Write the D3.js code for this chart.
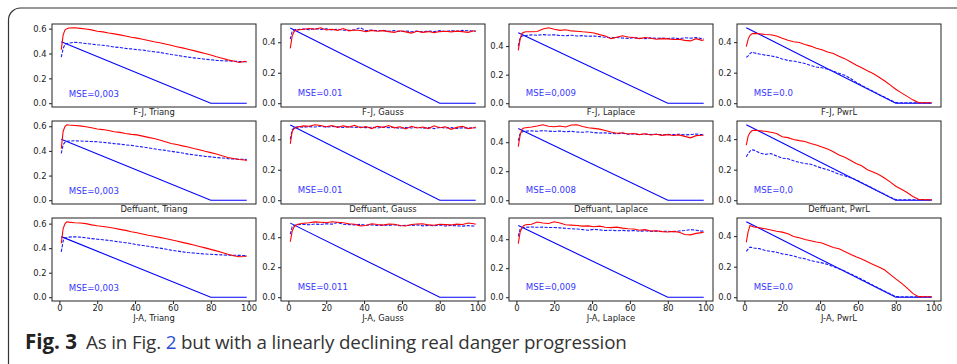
<!DOCTYPE html>
<html>
<head>
<meta charset="utf-8">
<script src="https://cdn.jsdelivr.net/npm/d3@7"></script>
<style>
  body { margin: 0; background: #fff; }
  svg { display: block; }
  .tick text { font-family: "DejaVu Sans", sans-serif; font-size: 8.4px; fill: #222; }
  .tick line { stroke: #222; }
</style>
</head>
<body>
<div id="wrapper"></div>
<script>
// x positions of the simulated points (days)
const xs = [1,2,3,4,5,8,11,14,17,20,23,26,29,32,35,38,41,44,47,50,53,56,59,62,65,68,71,74,77,80,83,86,89,92,95,98,99];

// real danger progression (linear decline, then zero)
const realX = [1, 80, 99];
const realY = [0.494, 0, 0];

const models = ["F-J", "Deffuant", "J-A"];
const dists = ["Triang", "Gauss", "Laplace", "PwrL"];

const mseFJ = ["MSE=0,003", "MSE=0.01", "MSE=0,009", "MSE=0.0"];
const mseDeffuant = ["MSE=0,003", "MSE=0.01", "MSE=0.008", "MSE=0,0"];
const mseJA = ["MSE=0,003", "MSE=0.011", "MSE=0,009", "MSE=0.0"];

const xTicks = [0, 20, 40, 60, 80, 100];
const yTicksTriang = [0, 0.2, 0.4, 0.6];
const yTicksOther = [0, 0.2, 0.4];

// red = perceived danger, blue dashed = estimate
const redFJTriang = [0.43,0.55,0.59,0.60,0.605,0.607,0.602,0.597,0.590,0.579,0.574,0.565,0.558,0.550,0.541,0.531,0.524,0.514,0.505,0.495,0.487,0.476,0.466,0.455,0.445,0.434,0.423,0.411,0.400,0.388,0.374,0.362,0.349,0.339,0.328,0.337,0.332];
const blueFJTriang = [0.37,0.44,0.475,0.48,0.484,0.49,0.486,0.48,0.476,0.47,0.466,0.46,0.452,0.448,0.441,0.437,0.431,0.428,0.42,0.414,0.409,0.4,0.392,0.386,0.378,0.371,0.365,0.36,0.354,0.35,0.345,0.342,0.34,0.337,0.336,0.334,0.333];
const redDefTriang = [0.42,0.56,0.60,0.612,0.61,0.606,0.603,0.596,0.588,0.578,0.573,0.566,0.556,0.55,0.541,0.534,0.53,0.52,0.51,0.5,0.488,0.474,0.46,0.452,0.441,0.432,0.42,0.41,0.397,0.386,0.375,0.36,0.347,0.338,0.33,0.326,0.32];
const blueDefTriang = [0.38,0.45,0.47,0.478,0.48,0.482,0.48,0.478,0.476,0.474,0.47,0.465,0.459,0.455,0.449,0.445,0.438,0.432,0.425,0.417,0.41,0.404,0.397,0.39,0.383,0.374,0.368,0.362,0.356,0.352,0.346,0.343,0.337,0.334,0.332,0.331,0.33];
const redJATriang = [0.44,0.56,0.60,0.615,0.612,0.607,0.605,0.6,0.59,0.582,0.576,0.57,0.562,0.553,0.545,0.534,0.525,0.516,0.505,0.497,0.488,0.478,0.469,0.458,0.447,0.437,0.425,0.414,0.402,0.39,0.378,0.364,0.351,0.338,0.33,0.332,0.337];
const blueJATriang = [0.37,0.46,0.485,0.487,0.49,0.493,0.49,0.484,0.478,0.473,0.468,0.463,0.457,0.45,0.444,0.438,0.428,0.422,0.415,0.408,0.4,0.393,0.384,0.377,0.37,0.364,0.36,0.356,0.352,0.35,0.347,0.345,0.343,0.342,0.341,0.34,0.341];

const redFJGauss = [0.36,0.44,0.47,0.48,0.48,0.485,0.49,0.485,0.495,0.48,0.485,0.478,0.49,0.475,0.48,0.477,0.47,0.478,0.472,0.476,0.47,0.465,0.475,0.468,0.46,0.472,0.465,0.47,0.463,0.47,0.472,0.468,0.473,0.47,0.465,0.475,0.47];
const blueFJGauss = [0.42,0.47,0.48,0.485,0.483,0.487,0.482,0.49,0.484,0.488,0.481,0.486,0.479,0.478,0.482,0.495,0.476,0.48,0.475,0.478,0.472,0.476,0.47,0.474,0.469,0.473,0.468,0.474,0.47,0.476,0.471,0.477,0.472,0.478,0.475,0.473,0.474];
const redDefGauss = [0.37,0.45,0.47,0.475,0.48,0.488,0.485,0.495,0.49,0.482,0.49,0.478,0.488,0.48,0.492,0.476,0.483,0.47,0.485,0.478,0.49,0.475,0.482,0.468,0.485,0.474,0.48,0.47,0.488,0.476,0.482,0.465,0.478,0.485,0.47,0.476,0.48];
const blueDefGauss = [0.4,0.46,0.475,0.48,0.482,0.478,0.483,0.48,0.486,0.479,0.484,0.481,0.477,0.482,0.478,0.48,0.476,0.479,0.474,0.48,0.476,0.478,0.472,0.477,0.474,0.479,0.473,0.476,0.47,0.478,0.474,0.476,0.471,0.475,0.473,0.476,0.474];
const redJAGauss = [0.37,0.44,0.47,0.48,0.486,0.493,0.497,0.502,0.5,0.497,0.503,0.5,0.497,0.49,0.486,0.476,0.478,0.49,0.485,0.481,0.488,0.486,0.478,0.475,0.485,0.488,0.49,0.482,0.48,0.486,0.484,0.482,0.487,0.485,0.495,0.49,0.486];
const blueJAGauss = [0.42,0.47,0.478,0.482,0.484,0.486,0.483,0.488,0.485,0.49,0.487,0.498,0.486,0.484,0.482,0.486,0.48,0.483,0.478,0.481,0.479,0.483,0.477,0.48,0.478,0.482,0.476,0.479,0.477,0.481,0.475,0.478,0.476,0.474,0.477,0.475,0.476];

const redFJLaplace = [0.37,0.45,0.49,0.497,0.5,0.5,0.502,0.52,0.528,0.518,0.51,0.514,0.506,0.504,0.5,0.497,0.492,0.48,0.47,0.452,0.462,0.472,0.463,0.46,0.452,0.46,0.455,0.448,0.452,0.45,0.446,0.448,0.44,0.436,0.452,0.44,0.442];
const blueFJLaplace = [0.4,0.46,0.47,0.472,0.474,0.478,0.476,0.48,0.477,0.479,0.474,0.472,0.476,0.47,0.473,0.468,0.47,0.466,0.462,0.458,0.46,0.456,0.454,0.458,0.455,0.452,0.457,0.454,0.456,0.453,0.456,0.452,0.458,0.455,0.46,0.452,0.45];
const redDefLaplace = [0.37,0.45,0.49,0.498,0.5,0.505,0.512,0.52,0.51,0.506,0.512,0.505,0.518,0.52,0.508,0.5,0.495,0.49,0.48,0.47,0.462,0.465,0.456,0.46,0.452,0.458,0.45,0.455,0.447,0.452,0.446,0.45,0.44,0.43,0.445,0.448,0.45];
const blueDefLaplace = [0.41,0.46,0.47,0.475,0.476,0.478,0.475,0.48,0.476,0.474,0.477,0.472,0.475,0.47,0.468,0.472,0.466,0.463,0.465,0.46,0.458,0.462,0.455,0.457,0.452,0.456,0.453,0.455,0.45,0.454,0.452,0.455,0.45,0.453,0.456,0.452,0.45];
const redJALaplace = [0.37,0.45,0.48,0.495,0.5,0.503,0.518,0.512,0.508,0.52,0.512,0.5,0.497,0.494,0.49,0.492,0.486,0.49,0.482,0.48,0.483,0.476,0.472,0.47,0.462,0.466,0.456,0.458,0.452,0.45,0.454,0.448,0.432,0.43,0.44,0.445,0.45];
const blueJALaplace = [0.42,0.47,0.478,0.48,0.482,0.484,0.482,0.483,0.48,0.481,0.478,0.475,0.472,0.47,0.466,0.462,0.468,0.464,0.46,0.462,0.458,0.461,0.457,0.46,0.455,0.458,0.454,0.456,0.453,0.455,0.452,0.456,0.46,0.466,0.462,0.455,0.458];

const redFJPwrL = [0.37,0.42,0.445,0.455,0.457,0.455,0.45,0.448,0.44,0.425,0.412,0.402,0.398,0.385,0.374,0.36,0.35,0.335,0.325,0.308,0.292,0.272,0.25,0.232,0.212,0.195,0.172,0.147,0.12,0.092,0.068,0.045,0.022,0.004,0.003,0.003,0.003];
const blueFJPwrL = [0.3,0.31,0.325,0.335,0.33,0.322,0.315,0.31,0.302,0.29,0.28,0.276,0.268,0.26,0.247,0.237,0.232,0.223,0.21,0.196,0.183,0.163,0.138,0.116,0.097,0.078,0.058,0.04,0.021,0.005,0.003,0.003,0.003,0.003,0.003,0.003,0.003];
const redDefPwrL = [0.36,0.42,0.443,0.455,0.458,0.455,0.452,0.445,0.437,0.415,0.41,0.398,0.39,0.385,0.372,0.362,0.348,0.335,0.318,0.296,0.282,0.262,0.24,0.225,0.2,0.185,0.168,0.145,0.12,0.092,0.072,0.05,0.025,0.006,0.003,0.003,0.003];
const blueDefPwrL = [0.285,0.305,0.322,0.33,0.328,0.31,0.3,0.305,0.29,0.275,0.272,0.258,0.248,0.24,0.236,0.222,0.21,0.2,0.186,0.17,0.16,0.148,0.134,0.115,0.096,0.077,0.058,0.04,0.02,0.004,0.003,0.003,0.003,0.003,0.003,0.003,0.003];
const redJAPwrL = [0.36,0.43,0.47,0.465,0.46,0.455,0.448,0.44,0.432,0.426,0.415,0.398,0.39,0.378,0.37,0.362,0.355,0.34,0.325,0.317,0.3,0.282,0.265,0.25,0.232,0.215,0.198,0.18,0.15,0.12,0.092,0.06,0.025,0.004,0.003,0.003,0.003];
const blueJAPwrL = [0.3,0.315,0.328,0.326,0.322,0.318,0.306,0.3,0.295,0.284,0.278,0.27,0.258,0.252,0.24,0.232,0.225,0.215,0.2,0.186,0.172,0.153,0.136,0.117,0.098,0.078,0.06,0.04,0.022,0.005,0.003,0.003,0.003,0.003,0.003,0.003,0.003];

function drawChart() {
  const width = 957, height = 364;
  const colLeft = [52, 281, 509, 737];
  const rowTop = [24, 121, 218];
  const pw = 204, ph = 83;

  const red = [
    [redFJTriang, redFJGauss, redFJLaplace, redFJPwrL],
    [redDefTriang, redDefGauss, redDefLaplace, redDefPwrL],
    [redJATriang, redJAGauss, redJALaplace, redJAPwrL]
  ];
  const blue = [
    [blueFJTriang, blueFJGauss, blueFJLaplace, blueFJPwrL],
    [blueDefTriang, blueDefGauss, blueDefLaplace, blueDefPwrL],
    [blueJATriang, blueJAGauss, blueJALaplace, blueJAPwrL]
  ];
  const mse = [mseFJ, mseDeffuant, mseJA];

  const svg = d3.select("#wrapper").append("svg")
    .attr("width", width)
    .attr("height", height);

  // outer rounded frame (runs off the right edge)
  svg.append("rect")
    .attr("x", 8.5).attr("y", 8)
    .attr("width", 1000).attr("height", 368)
    .attr("rx", 12)
    .attr("fill", "none")
    .attr("stroke", "#333")
    .attr("stroke-width", 1.2);

  // matplotlib-like 5% margins
  const pad = ([a, b]) => [a - (b - a) * 0.05, b + (b - a) * 0.05];

  const x = d3.scaleLinear().domain(pad(d3.extent(xs))).range([0, pw]);

  models.forEach((model, r) => {
    dists.forEach((dist, c) => {
      const g = svg.append("g")
        .attr("transform", `translate(${colLeft[c]},${rowTop[r]})`);

      const all = red[r][c].concat(blue[r][c], realY);
      const y = d3.scaleLinear().domain(pad(d3.extent(all))).range([ph, 0]);

      const line = d3.line()
        .x(d => x(d[0]))
        .y(d => y(d[1]));

      g.append("path")
        .datum(realX.map((v, i) => [v, realY[i]]))
        .attr("d", line)
        .attr("fill", "none")
        .attr("stroke", "#0000ff")
        .attr("stroke-width", 1.1);

      g.append("path")
        .datum(xs.map((v, i) => [v, blue[r][c][i]]))
        .attr("d", line)
        .attr("fill", "none")
        .attr("stroke", "#1a1aff")
        .attr("stroke-width", 1.1)
        .attr("stroke-dasharray", "3.2,1.4");

      g.append("path")
        .datum(xs.map((v, i) => [v, red[r][c][i]]))
        .attr("d", line)
        .attr("fill", "none")
        .attr("stroke", "#ff0000")
        .attr("stroke-width", 1.1);

      g.append("text")
        .attr("x", x(5))
        .attr("y", y(0.05))
        .attr("font-family", "DejaVu Sans, sans-serif")
        .attr("font-size", 8.6)
        .attr("fill", "#3535ff")
        .text(mse[r][c]);

      const yAxis = d3.axisLeft(y)
        .tickValues(dist === "Triang" ? yTicksTriang : yTicksOther)
        .tickFormat(d3.format(".1f"))
        .tickSize(3)
        .tickPadding(2.5);
      g.append("g").call(yAxis).call(a => a.select(".domain").remove());

      if (r === models.length - 1) {
        const xAxis = d3.axisBottom(x)
          .tickValues(xTicks)
          .tickFormat(d3.format("d"))
          .tickSize(3)
          .tickPadding(1);
        g.append("g")
          .attr("transform", `translate(0,${ph})`)
          .call(xAxis)
          .call(a => a.select(".domain").remove());
      }

      g.append("rect")
        .attr("width", pw).attr("height", ph)
        .attr("fill", "none")
        .attr("stroke", "#222")
        .attr("stroke-width", 1);

      g.append("text")
        .attr("x", pw / 2)
        .attr("y", ph + (r === models.length - 1 ? 20 : 8))
        .attr("text-anchor", "middle")
        .attr("font-family", "DejaVu Sans, sans-serif")
        .attr("font-size", 8.4)
        .attr("fill", "#222")
        .text(`${model}, ${dist}`);
    });
  });

  // caption
  svg.append("text")
    .attr("x", 25).attr("y", 349)
    .attr("font-family", "Open Sans, sans-serif")
    .attr("font-size", 20.5)
    .attr("font-weight", "bold")
    .attr("fill", "#222")
    .text("Fig. 3");

  const cap = svg.append("text")
    .attr("x", 86).attr("y", 349)
    .attr("font-family", "Open Sans, sans-serif")
    .attr("font-size", 18.8)
    .attr("letter-spacing", -0.15)
    .attr("fill", "#333");
  cap.append("tspan").text("As in Fig. ");
  cap.append("tspan").attr("fill", "#2a4ed6").text("2");
  cap.append("tspan").text(" but with a linearly declining real danger progression");
}

drawChart();
</script>
</body>
</html>
